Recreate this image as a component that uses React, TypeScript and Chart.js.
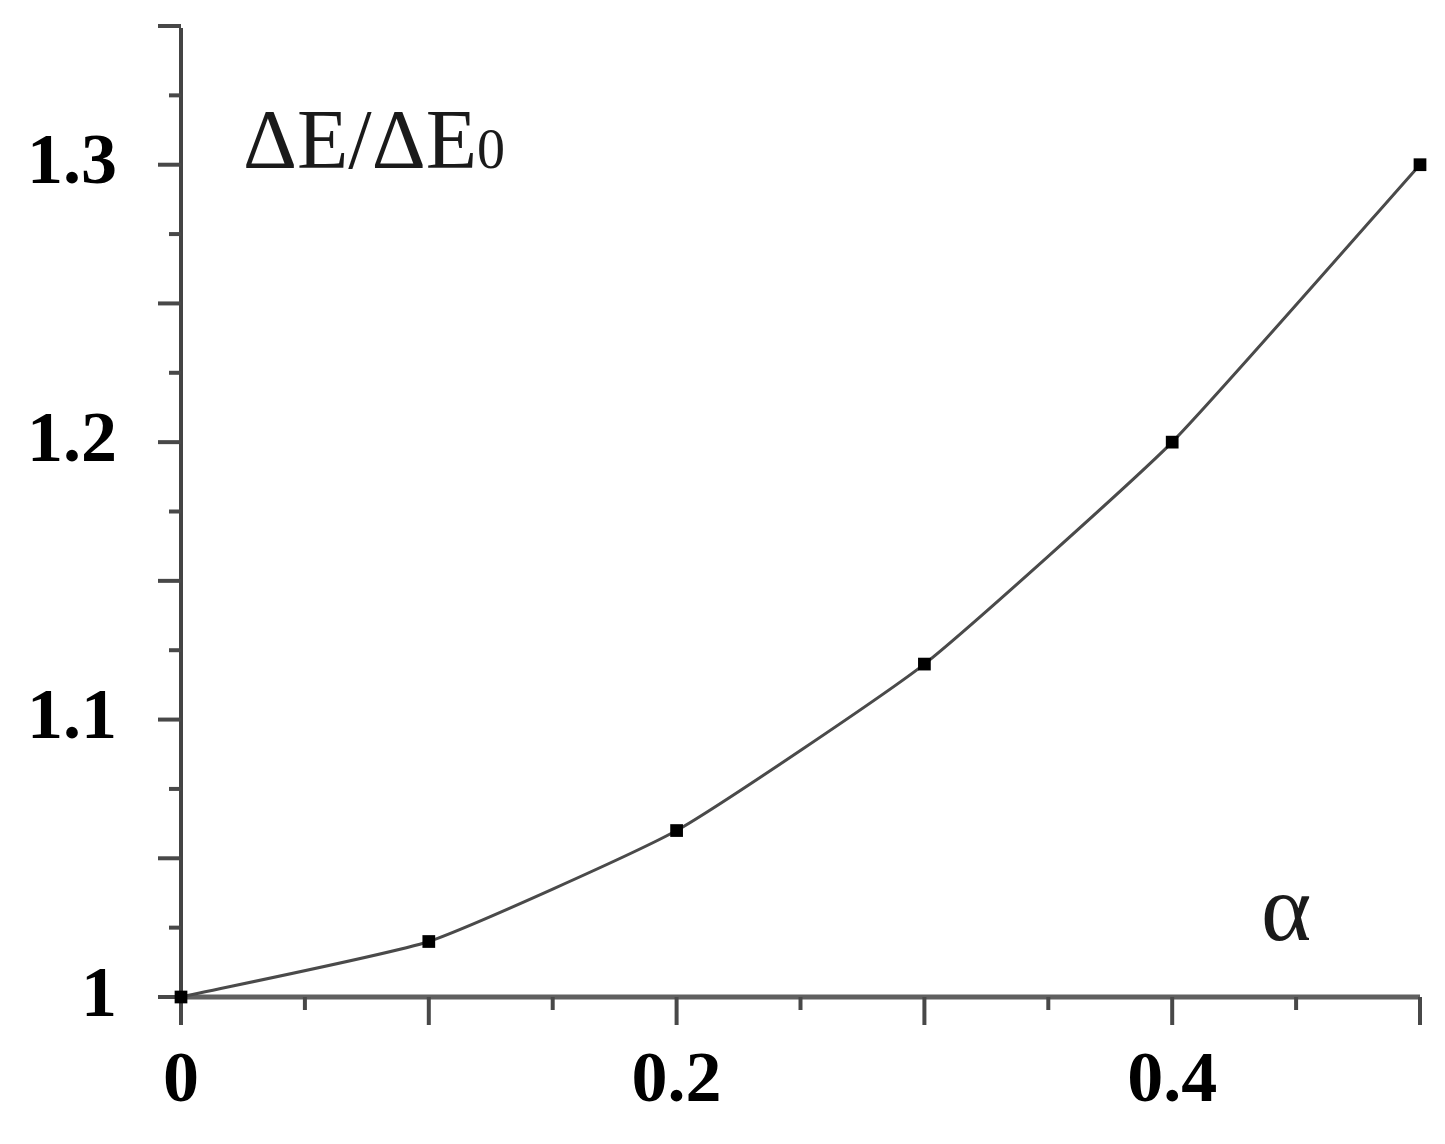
import { useEffect, useRef } from 'react';
import { Chart, registerables } from 'chart.js';

Chart.register(...registerables);

// ---- data ----
const alphaValues = [0, 0.1, 0.2, 0.3, 0.4, 0.5];
const ratioValues = [1, 1.02, 1.06, 1.12, 1.2, 1.3];
const xLabelTicks = [0, 0.2, 0.4];
const yLabelTicks = [1, 1.1, 1.2, 1.3];
const xRange = { min: 0, max: 0.5, step: 0.05, majorStep: 0.1 };
const yRange = { min: 1, max: 1.35, step: 0.025, majorStep: 0.05 };
const yAxisTitle = 'ΔE/ΔE';
const yAxisTitleSub = '0';
const xAxisTitle = 'α';

const near = (a: number, b: number) => Math.abs(a - b) < 1e-7;
const isMultiple = (v: number, step: number) => near(v / step, Math.round(v / step));
const tickValues = (r: { min: number; max: number; step: number }) => {
  const out: number[] = [];
  const n = Math.round((r.max - r.min) / r.step);
  for (let i = 0; i <= n; i++) out.push(Math.round((r.min + i * r.step) * 1e6) / 1e6);
  return out;
};

const axesPlugin = {
  id: 'customAxes',
  beforeDatasetsDraw(chart: any) {
    const { ctx } = chart;
    const xs = chart.scales.x;
    const ys = chart.scales.y;
    const x0 = xs.getPixelForValue(xRange.min);
    const y0 = ys.getPixelForValue(yRange.min);
    ctx.save();
    ctx.lineCap = 'butt';
    // y axis line
    ctx.strokeStyle = '#444';
    ctx.lineWidth = 4;
    ctx.beginPath();
    ctx.moveTo(x0, ys.getPixelForValue(yRange.max) + 2);
    ctx.lineTo(x0, y0);
    ctx.stroke();
    // x axis line
    ctx.strokeStyle = '#606060';
    ctx.lineWidth = 5;
    ctx.beginPath();
    ctx.moveTo(x0, y0);
    ctx.lineTo(xs.getPixelForValue(xRange.max), y0);
    ctx.stroke();
    // y ticks
    ctx.strokeStyle = '#484848';
    ctx.lineWidth = 4;
    tickValues(yRange).forEach((v) => {
      const py = ys.getPixelForValue(v);
      const len = isMultiple(v, yRange.majorStep) ? 23 : 12;
      ctx.beginPath();
      ctx.moveTo(x0, py);
      ctx.lineTo(x0 - len, py);
      ctx.stroke();
    });
    // x ticks
    tickValues(xRange).forEach((v) => {
      const px = xs.getPixelForValue(v);
      const len = isMultiple(v, xRange.majorStep) ? 28 : 13;
      ctx.beginPath();
      ctx.moveTo(px, y0);
      ctx.lineTo(px, y0 + len);
      ctx.stroke();
    });
    ctx.restore();
  },
  afterDraw(chart: any) {
    const { ctx } = chart;
    const xs = chart.scales.x;
    const ys = chart.scales.y;
    ctx.save();
    ctx.fillStyle = '#1a1a1a';
    ctx.textBaseline = 'alphabetic';
    ctx.textAlign = 'left';
    // y title
    ctx.font = '84px "Liberation Serif"';
    const tx = xs.getPixelForValue(0) + 62;
    const ty = ys.getPixelForValue(1.3) + 3;
    ctx.fillText(yAxisTitle, tx, ty);
    const w = ctx.measureText(yAxisTitle).width;
    ctx.font = '56px "Liberation Serif"';
    ctx.fillText(yAxisTitleSub, tx + w, ty);
    // x title
    ctx.font = '96px "Liberation Serif"';
    ctx.fillText(xAxisTitle, xs.getPixelForValue(0.45) - 35, ys.getPixelForValue(1) - 57);
    ctx.restore();
  },
};

const zeroPadding = (s: any) => {
  s.paddingTop = 0;
  s.paddingBottom = 0;
  s.paddingLeft = 0;
  s.paddingRight = 0;
};

export default function App() {
  const canvasRef = useRef<HTMLCanvasElement | null>(null);

  useEffect(() => {
    if (!canvasRef.current) return;
    const tickFont = { family: '"Liberation Serif"', size: 72, weight: 'bold' as const };
    const chart = new Chart(canvasRef.current, {
      type: 'line',
      data: {
        datasets: [
          {
            data: alphaValues.map((a, i) => ({ x: a, y: ratioValues[i] })),
            borderColor: '#4a4a4a',
            borderWidth: 3,
            tension: 0.15,
            pointStyle: 'rect',
            pointRadius: 9,
            pointBackgroundColor: '#000',
            pointBorderWidth: 0,
            clip: false as any,
          },
        ],
      },
      options: {
        animation: false,
        responsive: false,
        events: [],
        layout: { padding: { left: 0, right: 25, top: 26, bottom: 0 } },
        plugins: { legend: { display: false }, tooltip: { enabled: false }, title: { display: false } },
        scales: {
          x: {
            type: 'linear',
            min: xRange.min,
            max: xRange.max,
            grid: { display: false, drawTicks: false },
            border: { display: false },
            afterFit: (s: any) => {
              s.height = 147;
              zeroPadding(s);
            },
            ticks: {
              stepSize: xRange.step,
              maxTicksLimit: 100,
              autoSkip: false,
              maxRotation: 0,
              minRotation: 0,
              padding: 42,
              color: '#000',
              font: tickFont,
              callback: (v: any) => {
                const t = xLabelTicks.find((l) => near(l, Number(v)));
                return t === undefined ? null : String(t);
              },
            },
          },
          y: {
            type: 'linear',
            min: yRange.min,
            max: yRange.max,
            grid: { display: false, drawTicks: false },
            border: { display: false },
            afterFit: (s: any) => {
              s.width = 181;
              zeroPadding(s);
            },
            ticks: {
              stepSize: yRange.step,
              maxTicksLimit: 100,
              autoSkip: false,
              padding: 64,
              color: '#000',
              font: tickFont,
              callback: (v: any) => {
                const t = yLabelTicks.find((l) => near(l, Number(v)));
                return t === undefined ? null : String(t);
              },
            },
          },
        },
      },
      plugins: [axesPlugin],
    });
    return () => chart.destroy();
  }, []);

  return (
    <div style={{ position: 'absolute', left: 0, top: 0, width: 1445, height: 1144, background: '#fff' }}>
      <canvas ref={canvasRef} width={1445} height={1144} style={{ display: 'block' }} />
    </div>
  );
}
